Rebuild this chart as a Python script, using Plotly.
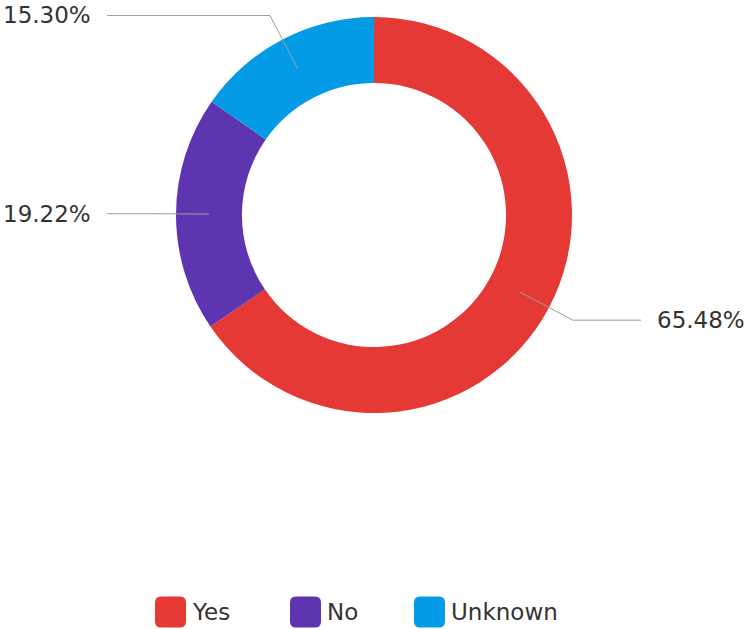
import math
import plotly.graph_objects as go

# ---- data ----
labels = ["Yes", "No", "Unknown"]
values = [65.48, 19.22, 15.30]
colors = ["#E53935", "#5E35B1", "#039BE5"]

# ---- layout constants (pixels) ----
W, H = 751, 629
CX, CY = 374, 215          # donut centre
R_OUT = 198
HOLE = 0.667
R_MID = R_OUT * (1 + HOLE) / 2
R_ELBOW = 225
X_LEFT_END, X_RIGHT_END = 107, 641
X_LEFT_TXT, X_RIGHT_TXT = 93, 655
FONT = "DejaVu Sans, Verdana, sans-serif"
TXT = "#333333"
LINE = "#9e9e9e"


def px(x):
    return x / W


def py(y):
    return 1 - y / H


fig = go.Figure(go.Pie(
    labels=labels, values=values, hole=HOLE, sort=False,
    direction="clockwise", rotation=0,
    marker=dict(colors=colors, line=dict(width=0)),
    textinfo="none", hoverinfo="label+percent", showlegend=False,
    domain=dict(x=[px(CX - R_OUT), px(CX + R_OUT)],
                y=[py(CY + R_OUT), py(CY - R_OUT)]),
))

shapes, annotations = [], []
total = sum(values)
cum = 0.0
for lab, v in zip(labels, values):
    mid = (cum + v / 2) / total * 2 * math.pi
    cum += v
    s, c = math.sin(mid), math.cos(mid)
    x0, y0 = CX + R_MID * s, CY - R_MID * c
    x1, y1 = CX + R_ELBOW * s, CY - R_ELBOW * c
    right = s > 0
    x2 = X_RIGHT_END if right else X_LEFT_END
    shapes.append(dict(type="path", xref="paper", yref="paper",
                       path=f"M{px(x0)},{py(y0)} L{px(x1)},{py(y1)} L{px(x2)},{py(y1)}",
                       line=dict(color=LINE, width=1)))
    annotations.append(dict(
        xref="paper", yref="paper",
        x=px(X_RIGHT_TXT if right else X_LEFT_TXT), y=py(y1),
        xanchor="left" if right else "right", yanchor="middle",
        text=f"{v / total * 100:.2f}%", showarrow=False,
        font=dict(family=FONT, size=23, color=TXT)))

# ---- custom legend ----
LEG_Y = 612
LEG_SIZE = 31
leg_x = [155, 290, 414]
rr = 6
for lab, col, lx in zip(labels, colors, leg_x):
    h = LEG_SIZE / 2
    k = h - rr
    path = (f"M{-k},{-h} L{k},{-h} Q{h},{-h} {h},{-k} L{h},{k} Q{h},{h} {k},{h} "
            f"L{-k},{h} Q{-h},{h} {-h},{k} L{-h},{-k} Q{-h},{-h} {-k},{-h} Z")
    shapes.append(dict(type="path", xref="paper", yref="paper",
                       xsizemode="pixel", ysizemode="pixel",
                       xanchor=px(lx + h), yanchor=py(LEG_Y),
                       path=path, fillcolor=col, line=dict(width=0)))
    annotations.append(dict(xref="paper", yref="paper",
                            x=px(lx + LEG_SIZE + 4), y=py(LEG_Y),
                            xanchor="left", yanchor="middle", text=lab,
                            showarrow=False,
                            font=dict(family=FONT, size=23, color=TXT)))

fig.update_layout(
    width=W, height=H,
    margin=dict(l=0, r=0, t=0, b=0),
    paper_bgcolor="white", plot_bgcolor="white",
    shapes=shapes, annotations=annotations,
    showlegend=False,
)

fig.write_html(
    "out.html",
    config={"displayModeBar": False},
    post_script="document.body.style.margin='0';document.body.style.overflow='hidden';",
)
